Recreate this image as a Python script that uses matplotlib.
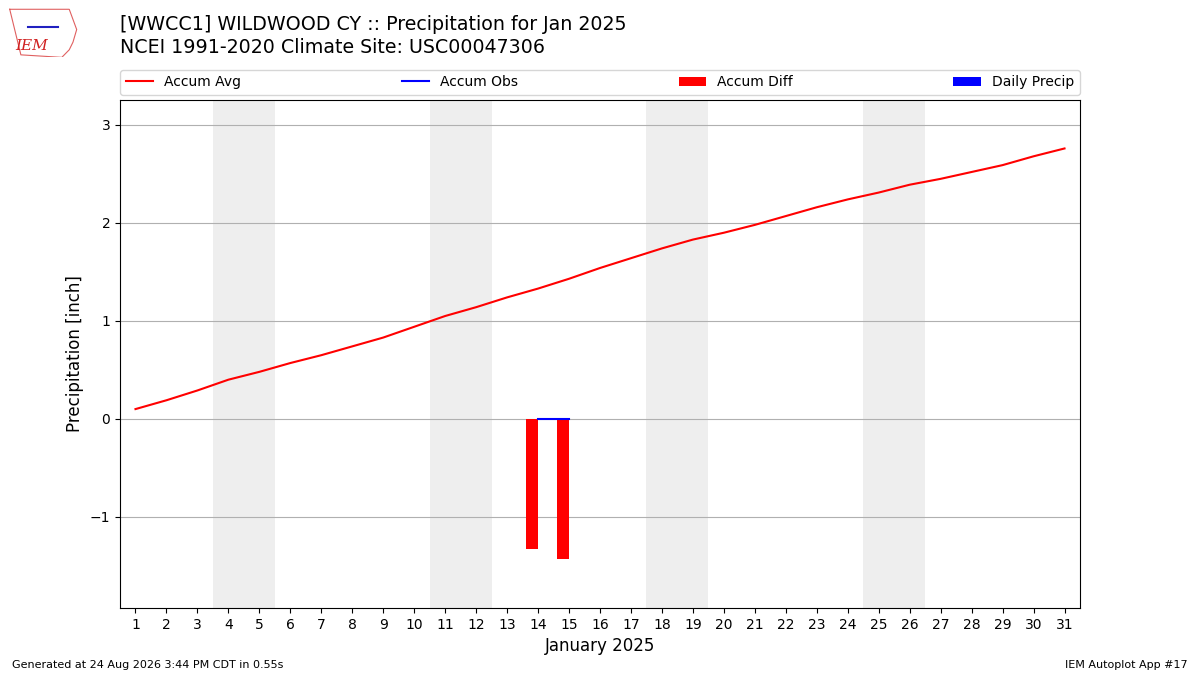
import numpy as np
import matplotlib
matplotlib.use("Agg")
import matplotlib.pyplot as plt

days = list(range(1, 32))
accum_avg = [0.10, 0.19, 0.29, 0.40, 0.48, 0.57, 0.65, 0.74, 0.83, 0.94,
             1.05, 1.14, 1.24, 1.33, 1.43, 1.54, 1.64, 1.74, 1.83, 1.90,
             1.98, 2.07, 2.16, 2.24, 2.31, 2.39, 2.45, 2.52, 2.59, 2.68, 2.76]
obs_days = [14, 15]
accum_obs = [0.0, 0.0]
daily_precip = [0.0, 0.0]
weekend_starts = [4, 11, 18, 25]
xtick_labels = [str(d) for d in days]

title1 = "[WWCC1] WILDWOOD CY :: Precipitation for Jan 2025"
title2 = "NCEI 1991-2020 Climate Site: USC00047306"
footer_left = "Generated at 24 Aug 2026 3:44 PM CDT in 0.55s"
footer_right = "IEM Autoplot App #17"

fig = plt.figure(figsize=(12, 6.75), dpi=100)
ax = fig.add_axes([0.1, 0.0993, 0.8, 0.7526])

for ws in weekend_starts:
    ax.axvspan(ws - 0.5, ws + 1.5, color="#eeeeee", zorder=0, lw=0)

avg_by_day = dict(zip(days, accum_avg))
diff = [o - avg_by_day[d] for d, o in zip(obs_days, accum_obs)]

l1, = ax.plot(days, accum_avg, color="red", lw=1.5, label="Accum Avg", zorder=3)
l2, = ax.plot(obs_days, accum_obs, color="blue", lw=1.5, label="Accum Obs", zorder=3)
b1 = ax.bar(np.array(obs_days) - 0.2, diff, width=0.4, color="red", label="Accum Diff", zorder=2)
b2 = ax.bar(np.array(obs_days) + 0.2, daily_precip, width=0.4, color="blue", label="Daily Precip", zorder=2)

ax.set_xlim(0.5, 31.5)
ax.set_ylim(-1.93, 3.255)
ax.set_xticks(days)
ax.set_xticklabels(xtick_labels)
ax.set_yticks([-1, 0, 1, 2, 3])
ax.yaxis.grid(True, color="#b0b0b0", lw=0.8, zorder=1)
ax.set_axisbelow(True)
ax.tick_params(labelsize=10)
ax.set_ylabel("Precipitation [inch]", fontsize=12)
ax.set_xlabel("January 2025", fontsize=12)

ax.legend(handles=[l1, l2, b1, b2], loc="lower left", bbox_to_anchor=(0, 1.01, 1, 0.1),
          mode="expand", ncol=4, fontsize=10, borderaxespad=0.0, frameon=True)

fig.text(0.1, 0.963, title1, fontsize=13.65, va="center", ha="left")
fig.text(0.1, 0.929, title2, fontsize=13.65, va="center", ha="left")
fig.text(0.01, 0.015, footer_left, fontsize=8, ha="left", va="center")
fig.text(0.99, 0.015, footer_right, fontsize=8, ha="right", va="center")

# simple logo stand-in
lax = fig.add_axes([0.005, 0.915, 0.062, 0.075])
lax.set_xlim(0, 1); lax.set_ylim(0, 1); lax.axis("off")
lax.plot([0.05, 0.85, 0.9, 0.95, 0.9, 0.85, 0.75, 0.2, 0.05],
         [0.95, 0.95, 0.75, 0.55, 0.3, 0.15, 0.0, 0.05, 0.95], color="#e06060", lw=0.8)
lax.text(0.35, 0.22, "IEM", color="#d02020", fontsize=11, family="DejaVu Serif",
         style="italic", ha="center", va="center")
lax.plot([0.3, 0.7], [0.6, 0.6], color="#2020c0", lw=1.5)

fig.savefig("out.png", dpi=100)
